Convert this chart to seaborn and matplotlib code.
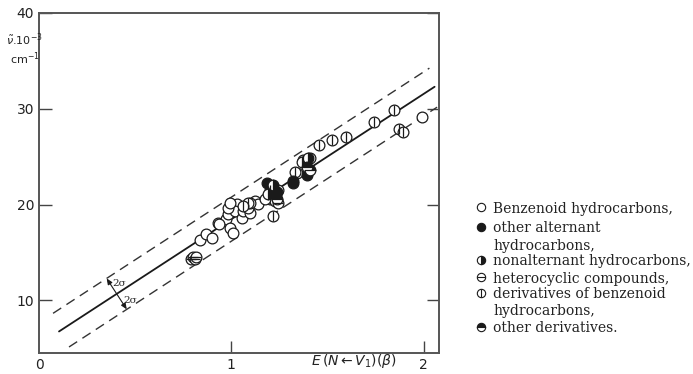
import numpy as np
import pandas as pd
import matplotlib
matplotlib.use("Agg")
import matplotlib.pyplot as plt
from matplotlib.lines import Line2D
import seaborn as sns

# values (x = E(N<-V1) in beta, y = wavenumber * 1e-3 cm^-1)
benz_x = [0.839, 0.870, 0.901, 0.932, 0.974, 0.995, 1.010, 0.984, 1.005, 1.031,
          1.021, 1.057, 1.063, 1.099, 1.125, 1.141, 0.984, 1.089, 1.203, 1.229,
          1.344, 1.990, 1.099, 1.177, 0.995, 0.937]
benz_y = [16.33, 16.96, 16.54, 18.12, 18.53, 17.59, 17.07, 19.06, 19.90, 20.10,
          19.37, 18.64, 19.37, 19.16, 20.42, 20.10, 19.69, 19.69, 20.63, 20.42,
          23.25, 29.11, 20.21, 20.63, 20.21, 18.01]

alt_x = [1.188, 1.240, 1.323, 1.396, 1.323]
alt_y = [22.30, 21.26, 22.30, 23.04, 22.51]

nonalt_x = [1.193, 1.370, 1.401, 1.219]
nonalt_y = [21.15, 24.40, 24.82, 22.00]

hetero_x = [0.792, 0.802, 0.812, 0.818, 1.245]
hetero_y = [14.30, 14.55, 14.35, 14.50, 20.21]

deriv_x = [1.458, 1.526, 1.594, 1.740, 1.844, 1.870, 1.891, 1.219, 1.245, 1.203,
           1.089, 1.063, 1.375, 1.411, 1.333]
deriv_y = [26.18, 26.70, 27.02, 28.59, 29.84, 27.85, 27.54, 18.85, 21.47, 21.47,
           20.21, 19.90, 24.61, 24.82, 23.35]

other_x = [1.396, 1.240, 1.411]
other_y = [23.87, 20.63, 23.60]

# regression line and 2 sigma band
slope, intercept, two_sigma = 13.08, 5.39, 2.3
fit_x = [0.104, 2.057]
upper_x = [0.073, 2.030]
lower_x = [0.156, 2.070]

legend_labels = ["Benzenoid hydrocarbons,", "other alternant\nhydrocarbons,",
                 "nonalternant hydrocarbons,", "heterocyclic compounds,",
                 "derivatives of benzenoid\nhydrocarbons,", "other derivatives."]

sns.set_style("white")
plt.rcParams["font.family"] = ["DejaVu Sans"]

fig = plt.figure(figsize=(6.93, 3.74), dpi=100)
ax = fig.add_axes([0.0563, 0.0561, 0.5772, 0.9092])

ink = "#1a1a1a"
ms = 60

# lines
fx = np.array(fit_x)
ux = np.array(upper_x)
lx = np.array(lower_x)
sns.lineplot(x=fx, y=slope * fx + intercept, ax=ax, color=ink, lw=1.3)
sns.lineplot(x=ux, y=slope * ux + intercept + two_sigma, ax=ax, color="#333333",
             lw=1.0, dashes=False, linestyle=(0, (7, 4.5)))
sns.lineplot(x=lx, y=slope * lx + intercept - two_sigma, ax=ax, color="#333333",
             lw=1.0, dashes=False, linestyle=(0, (7, 4.5)))

# points
open_x = benz_x + hetero_x + deriv_x
open_y = benz_y + hetero_y + deriv_y
sns.scatterplot(x=open_x, y=open_y, ax=ax, s=ms, facecolor="white",
                edgecolor=ink, linewidth=0.9, zorder=3)
sns.scatterplot(x=alt_x, y=alt_y, ax=ax, s=ms, color=ink, edgecolor=ink,
                linewidth=0.9, zorder=3)
ax.plot(nonalt_x, nonalt_y, ls="none", marker="o", ms=7.7, fillstyle="right",
        mfc=ink, mfcalt="white", mec=ink, mew=0.9, zorder=3)
ax.plot(other_x, other_y, ls="none", marker="o", ms=7.7, fillstyle="top",
        mfc=ink, mfcalt="white", mec=ink, mew=0.9, zorder=3)
sns.scatterplot(x=hetero_x, y=hetero_y, ax=ax, s=ms, marker="_", color=ink,
                linewidth=0.9, zorder=4)
sns.scatterplot(x=deriv_x, y=deriv_y, ax=ax, s=ms, marker="|", color=ink,
                linewidth=0.9, zorder=4)

# 2 sigma marker, perpendicular to the fit line in pixel space
ax.set_xlim(0, 2.08)
ax.set_ylim(4.5, 40)
cx = 0.404
cy = slope * cx + intercept
px_per_x = 192.0
px_per_y = 9.55
ang = np.arctan(slope * px_per_y / px_per_x)
perp = two_sigma * px_per_y * np.cos(ang)
dxp, dyp = perp * np.sin(ang), perp * np.cos(ang)
p1 = (cx - dxp / px_per_x, cy + dyp / px_per_y)
p2 = (cx + dxp / px_per_x, cy - dyp / px_per_y)
for p in (p1, p2):
    ax.annotate("", xy=p, xytext=(cx, cy),
                arrowprops=dict(arrowstyle="-|>, head_length=0.35, head_width=0.15",
                                color=ink, lw=0.8, shrinkA=0, shrinkB=0))
ax.text(p1[0] + 0.03, p1[1] - 0.1, "2σ", fontsize=7.5, va="top", ha="left",
        family="DejaVu Serif")
ax.text(cx + 0.035, cy - 0.2, "2σ", fontsize=7.5, va="top", ha="left",
        family="DejaVu Serif")

# axes styling
ax.set_xticks([0, 1, 2])
ax.set_yticks([10, 20, 30, 40])
ax.tick_params(direction="in", length=9, width=1, colors="#444444",
               labelcolor="#222222", labelsize=10, right=True, left=True,
               bottom=True, labelright=False)
ax.xaxis.get_major_ticks()[0].tick1line.set_visible(False)
for sp in ax.spines.values():
    sp.set_color("#555555")
    sp.set_linewidth(1.4)
ax.set_xlabel("")
ax.set_ylabel("")

fig.text(0.008, 0.895, r"$\tilde{\nu}$.10$^{-3}$", fontsize=8, color="#222222",
         ha="left", va="center")
fig.text(0.014, 0.843, r"cm$^{-1}$", fontsize=8, color="#222222",
         ha="left", va="center")
fig.text(0.51, 0.035, r"$E\,(N \leftarrow V_1)(\beta)$", fontsize=10,
         color="#222222", ha="center", va="center")

# legend drawn by hand: marker on the first line, continuation lines indented
row_y = [207, 227, 260, 277, 293, 327]
line_step = 17
styles = [dict(mfc="white"), dict(mfc=ink),
          dict(fillstyle="right", mfc=ink, mfcalt="white"),
          dict(mfc="white"), dict(mfc="white"),
          dict(fillstyle="top", mfc=ink, mfcalt="white")]
overlay = [None, None, None, "_", "|", None]
for lab, py, st, ov in zip(legend_labels, row_y, styles, overlay):
    yf = 1 - py / 374.0
    fig.add_artist(Line2D([481 / 693], [yf], ls="none", marker="o", ms=6,
                          mec=ink, mew=0.8, transform=fig.transFigure, **st))
    if ov:
        fig.add_artist(Line2D([481 / 693], [yf], ls="none", marker=ov, ms=6,
                              mec=ink, mew=0.8, transform=fig.transFigure))
    for k, part in enumerate(lab.split("\n")):
        fig.text(493 / 693, 1 - (py + k * line_step) / 374.0, part,
                 fontsize=10, family="DejaVu Serif", color="#222222",
                 ha="left", va="center_baseline")

fig.savefig("out.png", dpi=100)
